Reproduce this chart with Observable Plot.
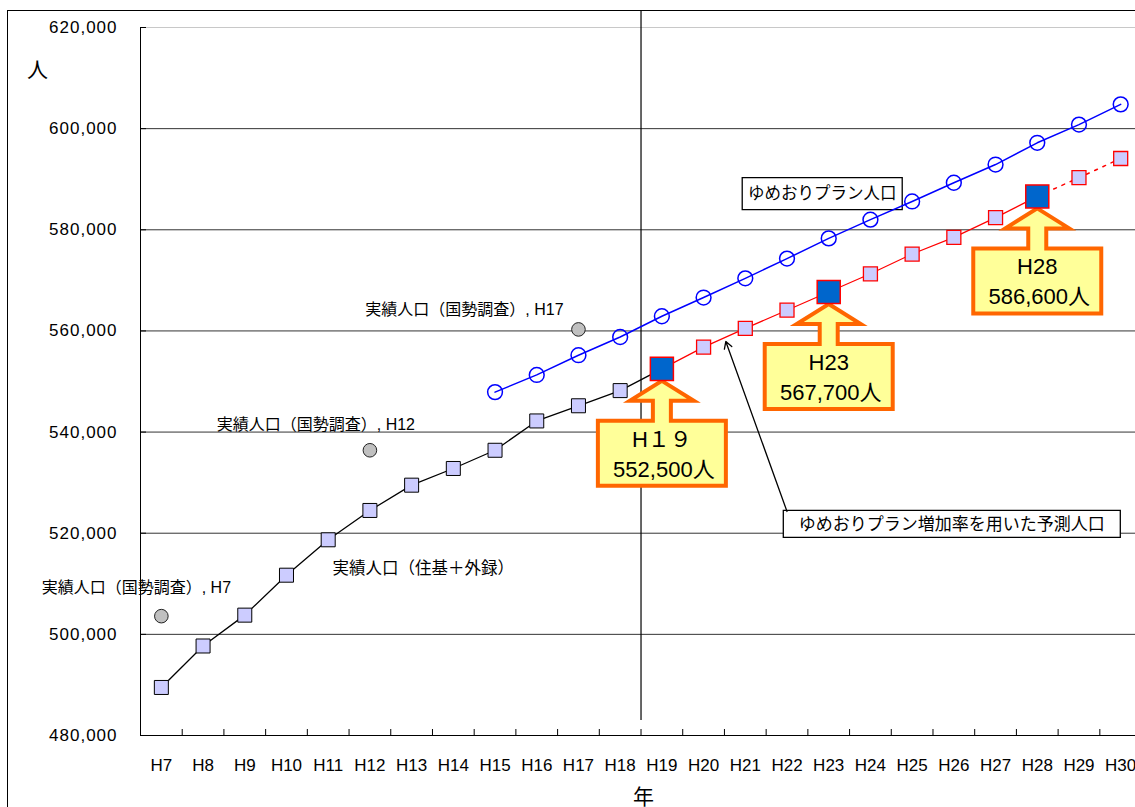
<!DOCTYPE html>
<html><head><meta charset="utf-8">
<script src="https://cdn.jsdelivr.net/npm/d3@7"></script>
<script src="https://cdn.jsdelivr.net/npm/@observablehq/plot@0.6"></script>
<style>
html,body{margin:0;padding:0;background:#fff;overflow:hidden;}
#wrap{position:relative;width:1135px;height:807px;overflow:hidden;background:#fff;}
#border{position:absolute;left:7px;top:10px;width:1300px;height:1000px;border:1px solid #000;pointer-events:none;box-sizing:border-box;}
#chart svg g[aria-label="y-axis tick label"] text{letter-spacing:1px;}
</style></head><body>
<div id="wrap"><div id="chart"></div><div id="border"></div></div>
<script>
// ---- data ----
const years = ["H7","H8","H9","H10","H11","H12","H13","H14","H15","H16","H17","H18",
               "H19","H20","H21","H22","H23","H24","H25","H26","H27","H28","H29","H30"];
const yTicks = [480000, 500000, 520000, 540000, 560000, 580000, 600000, 620000];

// 実績人口（住基＋外録）
const actualYears = ["H7","H8","H9","H10","H11","H12","H13","H14","H15","H16","H17","H18"];
const actualValues = [489500, 497700, 503800, 511700, 518700, 524500, 529500, 532800, 536400, 542200, 545200, 548200];

// 実績人口（国勢調査）
const censusYears = ["H7", "H12", "H17"];
const censusValues = [503600, 536400, 560300];

// ゆめおりプラン人口
const planYears = ["H15","H16","H17","H18","H19","H20","H21","H22","H23","H24","H25","H26","H27","H28","H29","H30"];
const planValues = [547900, 551300, 555200, 558800, 562900, 566600, 570400, 574300, 578300, 582000, 585600, 589300, 592900, 597200, 600800, 604800];

// ゆめおりプラン増加率を用いた予測人口
const predYears = ["H19","H20","H21","H22","H23","H24","H25","H26","H27","H28","H29","H30"];
const predValues = [552500, 556800, 560500, 564100, 567700, 571300, 575200, 578500, 582400, 586600, 590300, 594100];

// highlighted years (callouts)
const calloutYears = ["H19", "H23", "H28"];
const calloutTitles = ["H１９", "H23", "H28"];

// ---- tables ----
const xi = yr => years.indexOf(yr);
const rows = (ys, vs) => ys.map((y, i) => ({year: y, value: vs[i]}));
const actual = rows(actualYears, actualValues);
const census = rows(censusYears, censusValues);
const plan = rows(planYears, planValues);
const pred = rows(predYears, predValues);
const predMap = new Map(pred.map(d => [d.year, d.value]));
const callouts = calloutYears.map((y, i) => ({year: y, value: predMap.get(y), title: calloutTitles[i],
  label: d3.format(",")(predMap.get(y)) + "人"}));
const blackLine = actual.concat([pred[0]]);
const lastHi = calloutYears[calloutYears.length - 1];
const predSolid = pred.filter(d => xi(d.year) <= xi(lastHi));
const predDotted = pred.filter(d => xi(d.year) >= xi(lastHi));
const predSmall = pred.filter(d => !calloutYears.includes(d.year));
const predBig = pred.filter(d => calloutYears.includes(d.year));
const censusById = new Map(census.map(d => [d.year, d]));
const planById = new Map(plan.map(d => [d.year, d]));
const actualById = new Map(actual.map(d => [d.year, d]));

const X = d => xi(d.year), Y = d => d.value;
const boundaries = years.slice(1).map((_, i) => i + 0.5);

// arrow: from the label box corner to the predicted line between H20 and H21
const arrowData = [{x1: xi("H22"), y1: 524300,
  x2: (xi("H20") + xi("H21")) / 2, y2: (predMap.get("H20") + predMap.get("H21")) / 2}];

// ---- shapes ----
const calloutShape = {draw(ctx) {
  const pts = [[0,12],[32,32],[9,32],[9,52],[64,52],[64,117],[-64,117],[-64,52],[-9,52],[-9,32],[-32,32]];
  ctx.moveTo(pts[0][0], pts[0][1]);
  for (const p of pts.slice(1)) ctx.lineTo(p[0], p[1]);
  ctx.closePath();
}};
const rectShape = (w, h) => ({draw(ctx) { ctx.rect(-w / 2, -h / 2, w, h); }});

const W = 1135, H = 807, ML = 140, MT = 27, MB = 72;
const frameW = W - ML, frameH = H - MT - MB;
const font = "'Liberation Sans', Arial, 'Noto Sans CJK JP', sans-serif";
const C = {textAnchor: "middle", lineAnchor: "middle"};

const label2 = "ゆめおりプラン増加率を用いた予測人口";

const chart = Plot.plot({
  width: W, height: H,
  marginLeft: ML, marginRight: 0, marginTop: MT, marginBottom: MB,
  style: {fontFamily: font, fontSize: "16px", background: "#fff", color: "#000"},
  x: {type: "linear", domain: [-0.5, years.length - 0.5], range: [ML, ML + years.length * 41.71]},
  y: {domain: [yTicks[0], yTicks[yTicks.length - 1]]},
  marks: [
    Plot.ruleY([yTicks[yTicks.length - 1]], {stroke: "#c8c8c8"}),
    Plot.ruleY(yTicks.slice(1, -1), {stroke: "#333", strokeWidth: 1}),
    Plot.ruleY(yTicks, {insetRight: frameW - 6, stroke: "#000"}),
    Plot.ruleX(boundaries, {insetTop: frameH - 6, stroke: "#000"}),
    Plot.ruleX([-0.5], {stroke: "#000"}),
    Plot.ruleY([yTicks[0]], {stroke: "#000"}),
    Plot.ruleX([xi("H19") - 0.5], {insetTop: -17, insetBottom: 15, stroke: "#000", strokeWidth: 1.2}),
    Plot.axisY({ticks: yTicks, tickFormat: d3.format(","), tickSize: 0, tickPadding: 23, fontSize: 17, label: null}),
    Plot.axisX({ticks: years.map((_, i) => i), tickFormat: i => years[i], tickSize: 0, tickPadding: 23, fontSize: 17, label: null}),
    Plot.text(["人"], {text: d => d, frameAnchor: "top-left", ...C, dx: -103, dy: 43, fontSize: 21}),
    Plot.text(["年"], {text: d => d, frameAnchor: "bottom", ...C, dx: 5.5, dy: 62, fontSize: 21}),

    // boxed labels
    Plot.dot([planById.get("H23")], {x: X, y: Y, dx: -6.5, dy: -44.7, symbol: rectShape(160, 32), fill: "#fff", stroke: "#000", strokeWidth: 1.3}),
    Plot.text(["ゆめおりプラン人口"], {text: d => d, x: () => xi("H23"), y: () => planById.get("H23").value, ...C, dx: -6.5, dy: -44.2, fontSize: 16.5}),
    Plot.dot([label2], {frameAnchor: "bottom-right", dx: -183.7, dy: -211.7, symbol: rectShape(337, 27), fill: "#fff", stroke: "#000", strokeWidth: 1.3}),
    Plot.text([label2], {text: d => d, frameAnchor: "bottom-right", ...C, dx: -183.7, dy: -211.2, fontSize: 17}),
    Plot.arrow(arrowData, {x1: "x1", y1: "y1", x2: "x2", y2: "y2", stroke: "#000", strokeWidth: 1.3, headLength: 9, insetEnd: 4}),

    // text annotations
    Plot.text([censusById.get("H7")], {x: X, y: Y, text: () => "実績人口（国勢調査）, H7", dx: -25, dy: -28, fontSize: 16}),
    Plot.text([censusById.get("H12")], {x: X, y: Y, text: () => "実績人口（国勢調査）, H12", dx: -54, dy: -25, fontSize: 16}),
    Plot.text([censusById.get("H17")], {x: X, y: Y, text: () => "実績人口（国勢調査）, H17", dx: -114, dy: -20, fontSize: 16}),
    Plot.text([actualById.get("H11")], {x: X, y: Y, text: () => "実績人口（住基＋外録）", dx: 95, dy: 28.5, fontSize: 16.5}),

    // lines
    Plot.line(blackLine, {x: X, y: Y, stroke: "#000", strokeWidth: 1.3}),
    Plot.line(plan, {x: X, y: Y, stroke: "#0000ff", strokeWidth: 1.5}),
    Plot.line(predSolid, {x: X, y: Y, stroke: "#ff0000", strokeWidth: 1.2}),
    Plot.line(predDotted, {x: X, y: Y, stroke: "#ff0000", strokeWidth: 1.5, strokeDasharray: "3,6"}),

    // markers
    Plot.dot(actual, {x: X, y: Y, symbol: "square", r: 7.9, fill: "#ccccff", stroke: "#000", strokeWidth: 1}),
    Plot.dot(census, {x: X, y: Y, symbol: "circle", r: 6.8, fill: "#c0c0c0", stroke: "#222", strokeWidth: 1}),
    Plot.dot(plan, {x: X, y: Y, symbol: "circle", r: 7.4, fill: "none", stroke: "#0000ff", strokeWidth: 1.5}),
    Plot.dot(predSmall, {x: X, y: Y, symbol: "square", r: 7.9, fill: "#ccccff", stroke: "#ff0000", strokeWidth: 1.3}),

    // callouts
    Plot.dot(callouts, {x: X, y: Y, symbol: calloutShape, fill: "#ffff99", stroke: "#ff6600", strokeWidth: 4}),
    Plot.text(callouts, {x: X, y: Y, text: "title", dy: 71, fontSize: 22}),
    Plot.text(callouts, {x: X, y: Y, text: "label", dy: 101, dx: 2, fontSize: 22}),
    Plot.dot(predBig, {x: X, y: Y, symbol: "square", r: 13, fill: "#0066cc", stroke: "#ff0000", strokeWidth: 1.5})
  ]
});
document.getElementById("chart").appendChild(chart);
</script>
</body></html>
